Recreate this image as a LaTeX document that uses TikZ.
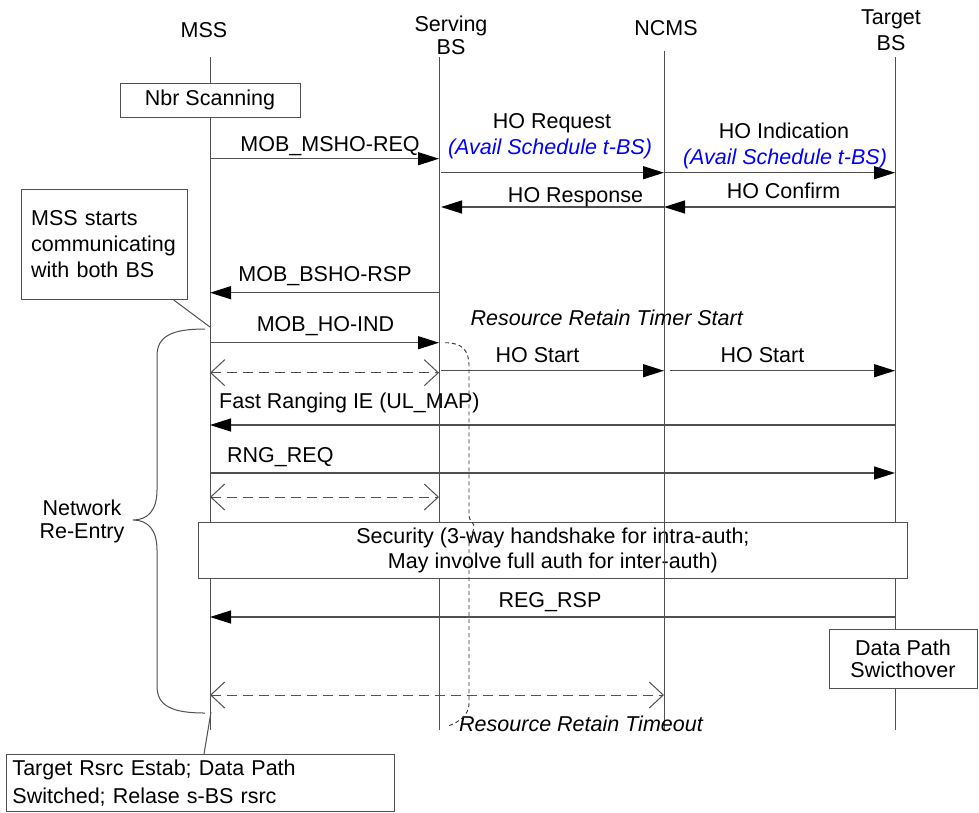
\documentclass[tikz,border=0pt]{standalone}
\usepackage{fontspec}
\setmainfont{Liberation Sans}
\usetikzlibrary{arrows.meta,calc}
\definecolor{ln}{HTML}{505050}
\definecolor{bl}{HTML}{0000FF}
\begin{document}
\begin{tikzpicture}[x=1pt,y=-1pt,font=\fontsize{21.5}{24}\selectfont,
  life/.style={draw=ln,line width=1pt},
  msg/.style={draw=ln,line width=1.3pt,-{Triangle[length=21pt,width=13pt,color=black]}},
  dmsg/.style={draw=ln,line width=1pt,dash pattern=on 10pt off 6pt,
    {Straight Barb[length=14pt,width=26pt,line width=1pt]}-{Straight Barb[length=14pt,width=26pt,line width=1pt]}},
  box/.style={draw=ln,line width=1pt,fill=white,inner sep=0pt},
  lbl/.style={anchor=base,inner sep=0pt},
  lblw/.style={anchor=base west,inner sep=0pt},
  blue/.style={text=bl,font=\fontsize{21.5}{24}\selectfont\itshape}]
\useasboundingbox (0,0) rectangle (979,812);

% lifelines
\coordinate (mssT) at (210,57);  \coordinate (mssB) at (210,730);
\coordinate (sbsT) at (439,57);  \coordinate (sbsB) at (439,730);
\coordinate (ncmsT) at (664,51); \coordinate (ncmsB) at (664,730);
\coordinate (tbsT) at (895,57);  \coordinate (tbsB) at (895,730);
\draw[life] (mssT) -- (mssB);
\draw[life] (sbsT) -- (sbsB);
\draw[life] (ncmsT) -- (ncmsB);
\draw[life] (tbsT) -- (tbsB);

% headers
\node[lbl] (hmss) at (204,37) {MSS};
\node[lbl,align=center,font=\fontsize{21.5}{23}\selectfont] (hsbs) at (451,54) {Serving\\BS};
\node[lbl] (hncms) at (666,35) {NCMS};
\node[lbl,align=center,font=\fontsize{21.5}{26}\selectfont] (htbs) at (891,50) {Target\\BS};

% Nbr scanning
\node[box,minimum width=180pt,minimum height=34pt] (nbr) at (210,100) {Nbr Scanning};

% MOB_MSHO-REQ
\coordinate (a1s) at (210,158.7); \coordinate (a1e) at (439,158.7);
\draw[msg] (a1s) -- (a1e);
\node[lbl] (l1) at (330,151) {MOB\_MSHO-REQ};

% HO Request
\coordinate (a2s) at (441,172.7); \coordinate (a2e) at (664,172.7);
\draw[msg] (a2s) -- (a2e);
\node[lbl] (l2) at (552,128) {HO Request};
\node[lbl,blue] (l2b) at (550,154) {(Avail Schedule t-BS)};

% HO Indication
\coordinate (a3e) at (895,172.7);
\draw[msg] (a2e) -- (a3e);
\node[lbl] (l3) at (784,138) {HO Indication};
\node[lbl,blue] (l3b) at (785,164) {(Avail Schedule t-BS)};

% HO Confirm / HO Response
\coordinate (a4s) at (895,207); \coordinate (a4e) at (664,207); \coordinate (a5e) at (441,207);
\draw[msg] (a4s) -- (a4e);
\node[lbl] (l4) at (783.5,198) {HO Confirm};
\draw[msg] (a4e) -- (a5e);
\node[lbl] (l5) at (575.5,202) {HO Response};

% MSS starts box
\node[box,anchor=north west,minimum width=166pt,minimum height=110pt,
      text width=146pt,inner xsep=10pt,align=left,font=\fontsize{21.5}{26}\selectfont] (mstart) at (20.7,189)
      {MSS starts\\communicating\\with both BS};
\coordinate (c1) at (210,327);
\draw[life] ($(mstart.south east)+(-14,0)$) -- (c1);

% MOB_BSHO-RSP
\coordinate (a6s) at (439,292.7); \coordinate (a6e) at (210,292.7);
\draw[msg] (a6s) -- (a6e);
\node[lbl] (l6) at (325,281.7) {MOB\_BSHO-RSP};

% MOB_HO-IND
\coordinate (a7s) at (210,342.7); \coordinate (a7e) at (439,342.7);
\draw[msg] (a7s) -- (a7e);
\node[lbl] (l7) at (325.5,331.7) {MOB\_HO-IND};
\node[lbl,font=\fontsize{21.5}{24}\selectfont\itshape] (rrts) at (606.7,325) {Resource Retain Timer Start};

% dashed 1
\coordinate (d1s) at (210,372.7); \coordinate (d1e) at (439,372.7);
\draw[dmsg] (d1s) -- (d1e);

% HO Start
\coordinate (a8s) at (441,370.7); \coordinate (a8e) at (664,370.7);
\coordinate (a9s) at (670,370.7); \coordinate (a9e) at (895,370.7);
\draw[msg] (a8s) -- (a8e);
\draw[msg] (a9s) -- (a9e);
\node[lbl] (l8) at (537.5,362.7) {HO Start};
\node[lbl] (l9) at (762.5,362.7) {HO Start};

% Fast ranging
\coordinate (a10s) at (895,425); \coordinate (a10e) at (210,425);
\draw[msg] (a10s) -- (a10e);
\node[lblw] (l10) at (219,408) {Fast Ranging IE (UL\_MAP)};

% RNG_REQ
\coordinate (a11s) at (210,473); \coordinate (a11e) at (895,473);
\draw[msg] (a11s) -- (a11e);
\node[lblw] (l11) at (227,462.3) {RNG\_REQ};

% dashed 2
\coordinate (d2s) at (210,497); \coordinate (d2e) at (439,497);
\draw[dmsg] (d2s) -- (d2e);

% Security
\node[box,minimum width=708.3pt,minimum height=55.6pt,align=center,font=\fontsize{21.5}{25.6}\selectfont] (sec) at (552.9,550.5)
  {Security (3-way handshake for intra-auth;\\May involve full auth for inter-auth)};
\draw[life] (sec.north -| ncmsT) -- (sec.south -| ncmsT);

% REG_RSP
\coordinate (a12s) at (895,617); \coordinate (a12e) at (210,617);
\draw[msg] (a12s) -- (a12e);
\node[lbl] (l12) at (550,607) {REG\_RSP};

% Data path box
\node[box,minimum width=148pt,minimum height=59pt,align=center,font=\fontsize{21.5}{22}\selectfont] (dp) at (903,658.5)
  {Data Path\\Swicthover};

% dashed 3
\coordinate (d3s) at (210,695); \coordinate (d3e) at (664,695);
\draw[dmsg] (d3s) -- (d3e);

% Resource retain timeout
\node[lblw,font=\fontsize{21.5}{24}\selectfont\itshape] (rrto) at (459,731) {Resource Retain Timeout};

% retain timer dashed curve
\draw[black!80,line width=0.9pt,dash pattern=on 4pt off 3pt]
  (a7e) ++(6,0) .. controls (462,342.7) and (469,350) .. (469,366)
  -- (469,516) .. controls (469,521) and (475,523) .. (474,528)
  .. controls (473,533) and (469,536) .. (469,545)
  -- (469,704) .. controls (469,714) and (460,722) .. (448,726);

% bottom box
\node[box,anchor=north west,minimum width=386pt,minimum height=57pt,text width=376pt,
      inner xsep=6pt,align=left,font=\fontsize{21.5}{28}\selectfont] (bot) at (6,754)
  {Target Rsrc Estab; Data Path\\Switched; Relase s-BS rsrc};
\coordinate (c3) at (211,712);
\draw[life] ($(bot.north west)+(198,0)$) -- (c3);

% brace
\coordinate (brT) at (205,329); \coordinate (brB) at (205,713);
\draw[ln,line width=1pt] (brT) .. controls (172,329) and (157,336) .. (157,356)
  -- (157,490) .. controls (157,510) and (148,520) .. (133,520)
  .. controls (148,520) and (157,530) .. (157,550)
  -- (157,686) .. controls (157,706) and (172,713) .. (brB);
\node[lbl,align=center,font=\fontsize{21.5}{23}\selectfont] (nre) at (82,538) {Network\\Re-Entry};
\end{tikzpicture}
\end{document}
